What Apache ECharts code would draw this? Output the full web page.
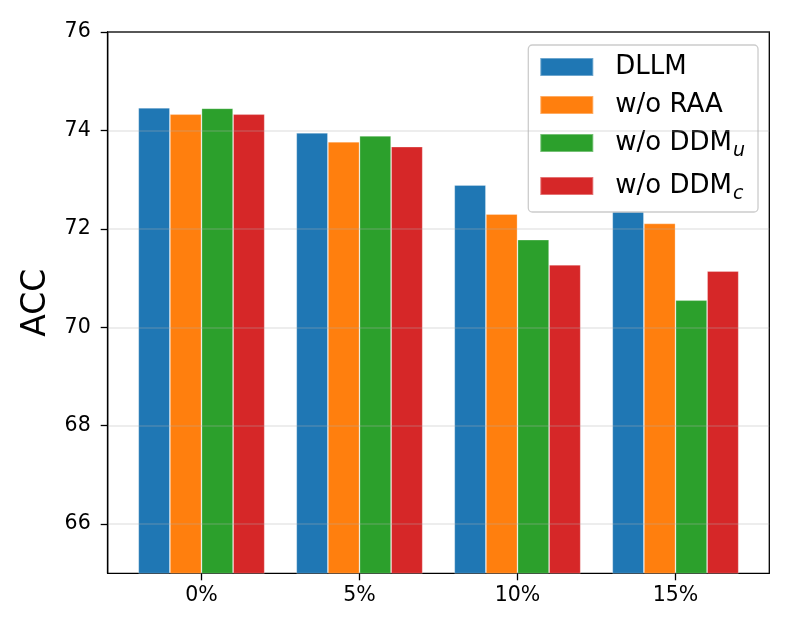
<!DOCTYPE html>
<html>
<head>
<meta charset="utf-8">
<script src="https://cdn.jsdelivr.net/npm/echarts@6/dist/echarts.min.js"></script>
<style>
html,body{margin:0;padding:0;background:#fff;}
#chart{width:793px;height:634px;}
</style>
</head>
<body>
<div id="chart"></div>
<script>
const categories = ['0%', '5%', '10%', '15%'];
const seriesNames = ['DLLM', 'w/o RAA', 'w/o DDMu', 'w/o DDMc'];
const dllm = [74.46, 73.95, 72.89, 72.36];
const woRAA = [74.33, 73.77, 72.30, 72.11];
const woDDMu = [74.45, 73.89, 71.78, 70.55];
const woDDMc = [74.33, 73.67, 71.27, 71.14];
const yTicks = [66, 68, 70, 72, 74, 76];
const colors = ['#1f77b4', '#ff7f0e', '#2ca02c', '#d62728'];

const FONT = 'DejaVu Sans';
const chart = echarts.init(document.getElementById('chart'), null, {renderer: 'canvas'});
const allData = [dllm, woRAA, woDDMu, woDDMc];

function legendFmt(name) {
  if (name === 'w/o DDMu') return '{a|w/o DDM}{s|u}';
  if (name === 'w/o DDMc') return '{a|w/o DDM}{s|c}';
  return '{a|' + name + '}';
}

const option = {
  backgroundColor: '#fff',
  animation: false,
  grid: [
    {left: 107.7, right: 23.7, top: 32, bottom: 60.7, show: true, borderColor: '#000', borderWidth: 1.3, backgroundColor: 'transparent', z: 1},
    {left: 122.5, right: 38.5, top: 32, bottom: 60.7}
  ],
  xAxis: [
    {gridIndex: 0, type: 'value', min: 0, max: 1, show: false},
    {
      gridIndex: 1, type: 'category', data: categories,
      axisLine: {show: false},
      axisTick: {show: true, alignWithLabel: true, length: 7, lineStyle: {color: '#000', width: 1.3}},
      axisLabel: {color: '#000', fontSize: 20.5, fontFamily: FONT, margin: 12},
      splitLine: {show: false}
    }
  ],
  yAxis: [
    {
      gridIndex: 0, type: 'value', min: 65, max: 76, z: 10,
      name: 'ACC', nameLocation: 'middle', nameGap: 55, nameRotate: 90,
      nameTextStyle: {color: '#000', fontSize: 33, fontFamily: FONT},
      axisLine: {show: true, lineStyle: {color: '#000', width: 1.3}},
      axisTick: {show: true, length: 7, customValues: yTicks, lineStyle: {color: '#000', width: 1.3}},
      axisLabel: {color: '#000', fontSize: 20.5, fontFamily: FONT, margin: 17, customValues: yTicks},
      splitLine: {show: true, lineStyle: {color: 'rgba(176,176,176,0.3)', width: 1.5}}
    },
    {gridIndex: 1, type: 'value', min: 65, max: 76, show: false, splitLine: {show: false}}
  ],
  legend: {
    orient: 'vertical',
    left: 528.3, top: 45,
    itemWidth: 53, itemHeight: 18, itemGap: 12,
    padding: [9, 13, 8, 11],
    backgroundColor: 'rgba(255,255,255,0.8)',
    borderColor: '#cccccc', borderWidth: 1.3, borderRadius: 4,
    icon: 'rect',
    data: seriesNames,
    formatter: legendFmt,
    textStyle: {
      color: '#000', fontFamily: FONT,
      rich: {
        a: {fontSize: 26, lineHeight: 36, fontFamily: FONT, color: '#000', padding: [0, 0, 0, 17]},
        s: {fontSize: 19, lineHeight: 19, fontFamily: FONT, fontStyle: 'italic', color: '#000', verticalAlign: 'bottom', padding: [0, 0, 0, 1]}
      }
    }
  },
  series: seriesNames.map((n, i) => ({
    name: n, type: 'bar', xAxisIndex: 1, yAxisIndex: 1,
    data: allData[i], barWidth: 31.6, barGap: '0%',
    itemStyle: {color: colors[i], borderColor: 'rgba(255,255,255,0.35)', borderWidth: 0.8},
    z: 2
  }))
};
chart.setOption(option);
</script>
</body>
</html>
